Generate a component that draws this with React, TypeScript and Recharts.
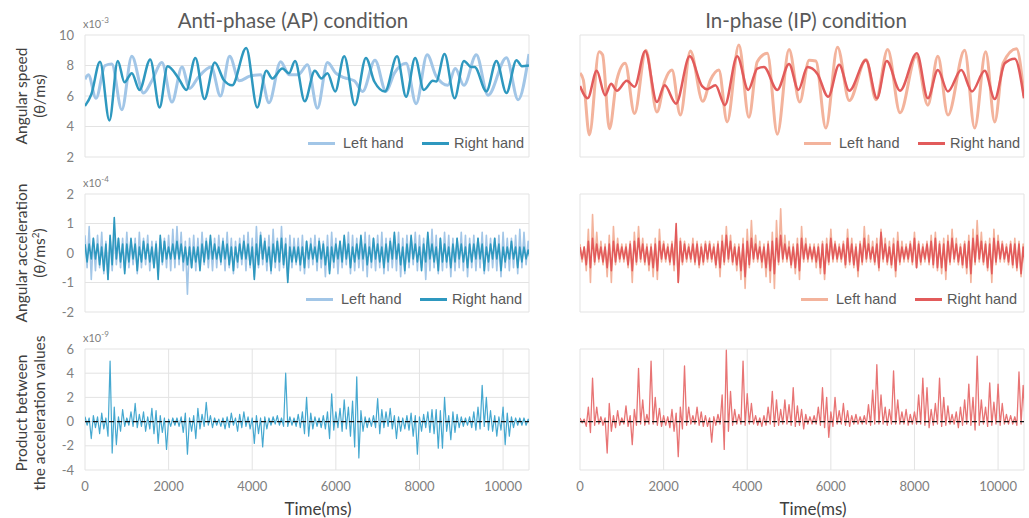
import React from 'react';
import { LineChart, Line, XAxis, YAxis, CartesianGrid, ReferenceLine } from 'recharts';

// ---------- axes ----------
const X_TICKS = [0, 2000, 4000, 6000, 8000, 10000];
const X_MAX = 10620;
const SPEED_TICKS = [2, 4, 6, 8, 10];
const ACC_TICKS = [-2, -1, 0, 1, 2];
const PROD_TICKS = [-4, -2, 0, 2, 4, 6];
const STEP = 100; // ms between envelope samples of the noisy signals

// ---------- angular speed (x10^-3), turning points ----------
const apRightSpeedT = [0, 150, 360, 584, 784, 944, 1120, 1304, 1560, 1784, 1976, 2240, 2424, 2640, 2856, 3104, 3320, 3520, 3856, 4120, 4336, 4480, 4720, 4880, 5024, 5256, 5496, 5656, 5800, 5984, 6200, 6456, 6720, 6920, 7176, 7464, 7680, 7896, 8104, 8320, 8400, 8600, 8840, 9064, 9240, 9320, 9600, 9840, 10080, 10320, 10450, 10620];
const apRightSpeedV = [5.35, 6.1, 8.25, 4.4, 8.3, 6.9, 7.5, 6.4, 8.4, 5.25, 7.95, 7.15, 6.4, 8.5, 5.8, 8.2, 7.05, 6.7, 9.15, 5.25, 7.65, 7.15, 7.8, 7.5, 8.3, 5.65, 7.65, 7.15, 7.5, 6.3, 8.6, 5.4, 8.5, 6.95, 6.3, 8.6, 5.95, 8.5, 6.4, 7.0, 6.95, 8.75, 5.85, 8.3, 7.9, 7.9, 6.3, 8.3, 6.2, 8.35, 7.95, 8.0];
const apLeftSpeedT = [0, 80, 264, 480, 640, 880, 1120, 1400, 1600, 1840, 2080, 2320, 2500, 2700, 3020, 3240, 3460, 3690, 3940, 4200, 4400, 4680, 4880, 5100, 5320, 5560, 5800, 6000, 6200, 6440, 6640, 6936, 7200, 7400, 7680, 7920, 8184, 8400, 8680, 8856, 9064, 9360, 9640, 10080, 10360, 10620];
const apLeftSpeedV = [7.1, 7.4, 5.85, 8.0, 8.1, 5.1, 8.6, 6.2, 7.0, 8.2, 5.6, 7.9, 6.5, 7.2, 7.9, 6.0, 8.6, 7.0, 7.3, 7.4, 5.55, 8.25, 7.4, 7.4, 8.05, 5.2, 8.2, 7.5, 7.2, 7.0, 6.3, 8.35, 6.3, 7.5, 8.15, 5.5, 8.7, 7.3, 6.7, 7.8, 6.7, 8.7, 6.05, 8.5, 5.75, 8.75];
const ipRightSpeedT = [0, 184, 400, 600, 744, 880, 1120, 1304, 1560, 1840, 2024, 2296, 2624, 2920, 3040, 3240, 3464, 3760, 4024, 4240, 4400, 4720, 5000, 5224, 5440, 5680, 5936, 6200, 6440, 6840, 7104, 7336, 7656, 8056, 8320, 8560, 8800, 9120, 9376, 9680, 9920, 10160, 10400, 10620];
const ipRightSpeedV = [6.65, 5.85, 7.65, 6.05, 6.8, 6.35, 7.0, 6.6, 8.95, 5.6, 6.7, 5.5, 8.6, 6.65, 6.45, 6.7, 5.4, 8.6, 6.4, 7.8, 7.9, 6.4, 8.1, 6.4, 7.9, 7.45, 5.95, 8.05, 6.35, 8.35, 5.85, 8.3, 6.35, 8.8, 5.85, 7.7, 6.3, 7.7, 6.3, 7.65, 5.8, 8.15, 8.45, 5.85];
const ipLeftSpeedT = [0, 80, 224, 456, 540, 704, 880, 1080, 1304, 1576, 1840, 2024, 2200, 2400, 2640, 2936, 3120, 3320, 3520, 3800, 4040, 4240, 4480, 4720, 5000, 5256, 5480, 5640, 5880, 6160, 6440, 6840, 7080, 7360, 7656, 8040, 8320, 8560, 8800, 9200, 9440, 9704, 9920, 10120, 10440, 10620];
const ipLeftSpeedV = [7.5, 7.05, 3.45, 8.9, 8.7, 3.85, 7.05, 8.15, 4.85, 9.0, 4.95, 6.95, 7.7, 4.75, 8.95, 5.65, 7.05, 7.7, 4.3, 9.35, 4.6, 8.25, 8.8, 3.5, 9.05, 5.6, 8.35, 8.3, 3.9, 9.2, 5.7, 8.4, 5.75, 9.05, 4.9, 8.6, 5.4, 8.6, 4.75, 9.0, 3.9, 8.9, 4.3, 8.15, 9.1, 6.0];

// ---------- angular acceleration (tenths of x10^-4), upper / lower envelope every 100 ms ----------
const apRightAccHi = [3,3,5,3,2,3,6,12,5,3, 3,5,3,2,4,3,2,3,6,4, 2,3,4,3,2,2,2,2,3,4, 6,3,2,4,3,2,2,3,4,3, 2,3,6,4,2,3,4,5,3,2, 2,2,2,4,3,2,4,3,2,2, 3,4,6,3,2,3,6,3,2,5, 3,2,3,4,7,3,2,3,6,3, 2,3,7,3,2,5,3,2,3,5, 3,2,3,3,5,3,2,3,5,3, 2,2,4,2,2,2,1];
const apRightAccLo = [-3,-2,-2,-4,-6,-9,-4,-2,-3,-7, -3,-2,-6,-3,-2,-3,-5,-9,-3,-2, -2,-2,-2,-3,-4,-5,-3,-6,-3,-2, -2,-2,-3,-2,-4,-6,-3,-2,-2,-4, -9,-4,-2,-3,-6,-3,-3,-4,-10,-3, -3,-4,-5,-2,-2,-3,-2,-4,-7,-3, -2,-3,-2,-5,-3,-2,-2,-4,-3,-2, -3,-5,-3,-2,-2,-4,-6,-3,-2,-3, -6,-3,-2,-3,-6,-3,-3,-5,-3,-2, -3,-5,-3,-2,-2,-6,-3,-2,-2,-6, -3,-2,-2,-5,-3,-2,-2];
const apLeftAccHi = [6,9,5,6,7,4,5,6,5,5, 7,4,5,7,5,6,4,4,5,5, 6,8,9,7,4,5,6,5,7,5, 4,5,6,5,7,5,4,5,6,7, 5,9,7,5,6,8,5,9,5,6, 5,5,6,4,5,6,5,4,6,7, 5,4,5,7,6,5,4,7,6,5, 6,7,5,5,6,7,5,6,5,7, 6,5,5,8,6,5,7,6,5,5, 7,6,5,6,5,7,6,5,5,6, 7,5,5,6,8,7,4];
const apLeftAccLo = [-5,-9,-6,-5,-7,-9,-6,-4,-5,-6, -5,-4,-7,-5,-4,-6,-5,-7,-4,-5, -6,-5,-4,-6,-14,-5,-6,-5,-4,-5, -6,-5,-4,-6,-5,-7,-5,-4,-6,-5, -8,-5,-4,-6,-7,-5,-6,-5,-9,-5, -4,-6,-7,-5,-4,-6,-5,-8,-6,-5, -7,-5,-4,-7,-6,-5,-6,-8,-5,-6, -5,-7,-6,-5,-6,-8,-7,-5,-4,-6, -5,-9,-6,-5,-7,-6,-5,-8,-6,-5, -6,-8,-5,-6,-5,-7,-6,-5,-6,-8, -5,-6,-5,-7,-5,-4,-3];
const ipLeftAccHi = [3,2,8,13,7,4,3,6,9,5, 3,3,4,7,9,5,3,3,5,8, 4,3,4,7,5,4,3,5,4,3, 4,4,3,4,6,9,6,3,3,5, 8,11,6,4,3,4,7,11,15,6, 4,3,5,9,5,3,3,3,4,5, 8,4,3,4,8,5,3,4,9,6, 4,5,8,5,4,5,7,4,3,4, 7,4,3,4,6,7,4,5,6,8, 5,3,4,6,8,11,7,4,5,8, 6,4,3,4,5,4,3];
const ipLeftAccLo = [-3,-6,-10,-4,-3,-4,-8,-10,-4,-3, -3,-5,-10,-4,-3,-4,-6,-8,-9,-3, -3,-4,-6,-10,-4,-3,-3,-4,-5,-4, -3,-3,-5,-8,-4,-3,-4,-6,-9,-12, -5,-3,-3,-5,-8,-10,-12,-4,-3,-3, -5,-7,-9,-3,-3,-3,-5,-7,-9,-4, -3,-3,-3,-5,-4,-5,-8,-4,-3,-3, -4,-6,-3,-4,-5,-8,-4,-3,-3,-4, -5,-4,-3,-4,-5,-6,-7,-9,-4,-3, -4,-5,-7,-10,-4,-3,-4,-6,-10,-4, -3,-3,-4,-5,-6,-8,-6];
const ipRightAccHi = [2,2,4,5,3,2,2,3,4,3, 2,2,3,4,5,3,2,2,3,4, 3,2,3,10,4,3,2,3,3,2, 3,3,2,3,4,6,4,2,2,3, 4,5,3,2,2,3,4,5,6,3, 2,2,3,5,3,2,2,2,3,3, 5,3,2,3,5,3,2,3,5,3, 2,3,7,3,2,3,4,2,2,3, 5,3,2,3,4,5,3,3,4,5, 3,2,3,4,5,6,4,3,3,5, 4,3,2,3,3,3,2];
const ipRightAccLo = [-2,-4,-5,-3,-2,-3,-5,-6,-3,-2, -2,-4,-6,-3,-2,-3,-4,-5,-6,-2, -2,-3,-4,-10,-3,-2,-2,-3,-4,-3, -2,-2,-4,-5,-3,-2,-3,-4,-6,-8, -4,-2,-2,-3,-5,-6,-7,-3,-2,-2, -4,-5,-6,-2,-2,-2,-3,-5,-7,-3, -2,-2,-2,-4,-3,-4,-6,-3,-2,-2, -3,-5,-2,-3,-4,-6,-3,-2,-2,-3, -5,-3,-2,-3,-4,-5,-5,-6,-3,-2, -3,-4,-5,-7,-3,-2,-3,-5,-7,-3, -2,-2,-3,-4,-5,-7,-5];

// ---------- product of accelerations (tenths of x10^-9), upper / lower envelope every 100 ms ----------
const apProdHi = [4,3,5,4,7,3,50,12,4,10, 3,8,15,6,8,4,11,9,5,3, 2,3,3,4,7,3,5,11,6,16, 5,3,2,3,4,7,3,6,8,4, 3,5,3,4,3,4,5,3,40,4, 3,6,8,20,7,4,3,5,8,23, 8,11,18,12,17,37,9,4,3,5, 19,10,8,11,5,4,3,5,7,5, 4,6,8,10,10,9,20,5,8,6, 4,3,4,8,12,30,20,9,5,4, 12,7,4,3,3,3,2];
const apProdLo = [-3,-14,-5,-10,-6,-12,-26,-19,-8,-4, -3,-4,-5,-4,-8,-6,-10,-18,-9,-23, -4,-3,-4,-9,-27,-8,-14,-6,-4,-3, -5,-3,-4,-6,-5,-3,-8,-5,-4,-6, -18,-10,-21,-6,-3,-2,-3,-4,-4,-3, -4,-5,-10,-12,-6,-4,-5,-6,-14,-7, -5,-8,-6,-12,-21,-30,-8,-5,-4,-5, -10,-5,-4,-6,-14,-8,-6,-7,-12,-27, -8,-5,-9,-10,-22,-22,-8,-15,-9,-5, -4,-3,-5,-7,-6,-4,-7,-8,-12,-7, -19,-12,-5,-3,-3,-3,-2];
const ipProdHi = [3,2,12,36,12,4,3,15,5,9, 3,13,5,10,44,18,6,50,20,11, 5,4,10,7,12,46,12,5,12,8, 5,3,4,6,22,59,25,10,6,50, 23,15,5,3,5,12,25,18,10,18, 14,28,13,10,6,4,5,12,28,20, 8,20,9,15,9,5,6,4,5,14, 26,47,22,12,10,42,18,8,10,6, 8,22,36,28,10,15,36,20,13,6, 8,12,18,31,20,54,18,12,32,16, 31,15,6,5,4,41,30];
const ipProdLo = [-1,-4,-9,-3,-2,-3,-26,-8,-5,-3, -2,-4,-19,-3,-2,-3,-2,-2,-3,-4, -3,-5,-8,-29,-6,-3,-2,-2,-3,-4, -4,-17,-3,-2,-23,-8,-3,-2,-2,-3, -2,-2,-3,-4,-3,-2,-4,-3,-2,-2, -3,-4,-3,-6,-2,-2,-2,-3,-5,-13, -4,-2,-2,-3,-4,-2,-2,-2,-2,-3, -2,-2,-2,-3,-2,-2,-2,-2,-3,-2, -2,-2,-3,-5,-3,-2,-4,-3,-2,-2, -5,-3,-2,-3,-7,-3,-2,-4,-3,-2, -3,-2,-2,-2,-3,-2,-2];

// ---------- colours ----------
const AP_LIGHT = '#a2c6e7';
const AP_DARK = '#2e98bf';
const IP_LIGHT = '#f3b39c';
const IP_DARK = '#e25b5b';
const AP_PROD = '#45a8d0';
const IP_PROD = '#e87474';

type Pt = { t: number; v: number };
const pairs = (ts: number[], vs: number[]): Pt[] => ts.map((t, i) => ({ t, v: vs[i] }));
const zig = (hi: number[], lo: number[]): Pt[] =>
  hi.flatMap((h, i) => [
    { t: i * STEP, v: h / 10 },
    { t: i * STEP + STEP / 2, v: lo[i] / 10 },
  ]);

type Series = { data: Pt[]; color: string; w: number; smooth: boolean; name: string };

const PLOT_W = 444;
const ML = 40;
const MR = 6;
const MT = 12;

function Panel(props: {
  left: number; top: number; plotH: number; domain: [number, number]; ticks: number[];
  showY: boolean; showX: boolean; series: Series[]; zero?: boolean;
}) {
  const { left, top, plotH, domain, ticks, showY, showX, series, zero } = props;
  const xh = showX ? 32 : 0;
  const mb = showX ? 0 : 10;
  const tickStyle = { fill: '#808080', fontSize: 13, fontFamily: 'Lato, sans-serif' };
  return (
    <div style={{ position: 'absolute', left: left - ML, top: top - MT }}>
      <LineChart width={ML + PLOT_W + MR} height={MT + plotH + mb + xh} margin={{ top: MT, right: MR, bottom: mb, left: 0 }}>
        <CartesianGrid stroke="#e3e3e3" strokeWidth={1} />
        <XAxis
          type="number" dataKey="t" domain={[0, X_MAX]} ticks={X_TICKS} allowDataOverflow
          height={xh} axisLine={false} tickLine={false} tickSize={0} tickMargin={12}
          tick={showX ? tickStyle : false} interval={0}
        />
        <YAxis
          type="number" domain={domain} ticks={ticks} allowDataOverflow width={ML}
          axisLine={false} tickLine={false} tickSize={0} tickMargin={11}
          tick={showY ? tickStyle : false} interval={0}
        />
        {series.map((s) => (
          <Line
            key={s.name} name={s.name} data={s.data} dataKey="v" stroke={s.color} strokeWidth={s.w}
            dot={false} activeDot={false} isAnimationActive={false} type={s.smooth ? 'monotone' : 'linear'}
            strokeLinejoin="round"
          />
        ))}
        {zero && <ReferenceLine y={0} stroke="#111" strokeDasharray="5 3" strokeWidth={1.4} />}
      </LineChart>
    </div>
  );
}

function LegendRow({ x0, y, light, dark }: { x0: number; y: number; light: string; dark: string }) {
  const txt: React.CSSProperties = {
    position: 'absolute', top: y - 9, fontFamily: '"Liberation Sans", Arial, sans-serif',
    fontSize: 14.5, color: '#595959', lineHeight: '18px', whiteSpace: 'nowrap',
  };
  const sample = (x: number, c: string): React.CSSProperties => ({
    position: 'absolute', left: x, top: y - 1.5, width: 27, height: 3, background: c,
  });
  return (
    <>
      <div style={sample(x0, light)} />
      <div style={{ ...txt, left: x0 + 35 }}>Left hand</div>
      <div style={sample(x0 + 114, dark)} />
      <div style={{ ...txt, left: x0 + 146 }}>Right hand</div>
    </>
  );
}

function YLabel({ cy, l1, l2 }: { cy: number; l1: React.ReactNode; l2: React.ReactNode }) {
  const s: React.CSSProperties = {
    position: 'absolute', width: 220, left: -110, textAlign: 'center', fontFamily: 'Lato, sans-serif',
    fontSize: 15.5, color: '#404040', lineHeight: '18px', transform: 'rotate(-90deg)', whiteSpace: 'nowrap',
  };
  return (
    <>
      <div style={{ ...s, top: cy - 9, marginLeft: 21 }}>{l1}</div>
      <div style={{ ...s, top: cy - 9, marginLeft: 39 }}>{l2}</div>
    </>
  );
}

function Scale({ x, y, exp }: { x: number; y: number; exp: string }) {
  return (
    <div style={{ position: 'absolute', left: x, top: y - 7, fontFamily: 'Lato, sans-serif', fontSize: 11, color: '#808080', lineHeight: '14px' }}>
      x10<sup style={{ fontSize: 8, verticalAlign: 'super', lineHeight: 0 }}>{exp}</sup>
    </div>
  );
}

export default function App() {
  const LX = 85;
  const RX = 580;
  const topSpeed = 35, hSpeed = 122;
  const topAcc = 194, hAcc = 118;
  const topProd = 349, hProd = 121;

  const apSpeed: Series[] = [
    { name: 'Left hand', data: pairs(apLeftSpeedT, apLeftSpeedV), color: AP_LIGHT, w: 3, smooth: true },
    { name: 'Right hand', data: pairs(apRightSpeedT, apRightSpeedV), color: AP_DARK, w: 2.5, smooth: true },
  ];
  const ipSpeed: Series[] = [
    { name: 'Left hand', data: pairs(ipLeftSpeedT, ipLeftSpeedV), color: IP_LIGHT, w: 3, smooth: true },
    { name: 'Right hand', data: pairs(ipRightSpeedT, ipRightSpeedV), color: IP_DARK, w: 2.5, smooth: true },
  ];
  const apAcc: Series[] = [
    { name: 'Left hand', data: zig(apLeftAccHi, apLeftAccLo), color: AP_LIGHT, w: 1.6, smooth: false },
    { name: 'Right hand', data: zig(apRightAccHi, apRightAccLo), color: AP_DARK, w: 1.6, smooth: false },
  ];
  const ipAcc: Series[] = [
    { name: 'Left hand', data: zig(ipLeftAccHi, ipLeftAccLo), color: IP_LIGHT, w: 1.6, smooth: false },
    { name: 'Right hand', data: zig(ipRightAccHi, ipRightAccLo), color: IP_DARK, w: 1.6, smooth: false },
  ];
  const apProd: Series[] = [{ name: 'Product', data: zig(apProdHi, apProdLo), color: AP_PROD, w: 1.2, smooth: false }];
  const ipProd: Series[] = [{ name: 'Product', data: zig(ipProdHi, ipProdLo), color: IP_PROD, w: 1.3, smooth: false }];

  const title: React.CSSProperties = {
    position: 'absolute', top: 8, width: 400, textAlign: 'center', fontFamily: 'Lato, sans-serif',
    fontSize: 20.5, color: '#595959', lineHeight: '24px',
  };
  const xTitle: React.CSSProperties = {
    position: 'absolute', top: 498, width: 200, textAlign: 'center', fontFamily: 'Lato, sans-serif',
    fontSize: 17, color: '#404040', lineHeight: '22px',
  };

  return (
    <div style={{ position: 'absolute', left: 0, top: 0, width: 1029, height: 518, background: '#fff', overflow: 'hidden' }}>
      <div style={{ ...title, left: 293 - 200 }}>Anti-phase (AP) condition</div>
      <div style={{ ...title, left: 806 - 200 }}>In-phase (IP) condition</div>

      <YLabel cy={96} l1="Angular speed" l2="(θ/ms)" />
      <YLabel cy={253} l1="Angular acceleration" l2={<span>(θ/ms<sup style={{ fontSize: 10, lineHeight: 0 }}>2</sup>)</span>} />
      <YLabel cy={413} l1="Product between" l2="the acceleration values" />

      <Panel left={LX} top={topSpeed} plotH={hSpeed} domain={[2, 10]} ticks={SPEED_TICKS} showY showX={false} series={apSpeed} />
      <Panel left={RX} top={topSpeed} plotH={hSpeed} domain={[2, 10]} ticks={SPEED_TICKS} showY={false} showX={false} series={ipSpeed} />
      <Panel left={LX} top={topAcc} plotH={hAcc} domain={[-2, 2]} ticks={ACC_TICKS} showY showX={false} series={apAcc} />
      <Panel left={RX} top={topAcc} plotH={hAcc} domain={[-2, 2]} ticks={ACC_TICKS} showY={false} showX={false} series={ipAcc} />
      <Panel left={LX} top={topProd} plotH={hProd} domain={[-4, 6]} ticks={PROD_TICKS} showY showX series={apProd} zero />
      <Panel left={RX} top={topProd} plotH={hProd} domain={[-4, 6]} ticks={PROD_TICKS} showY={false} showX series={ipProd} zero />

      <Scale x={83} y={24} exp="-3" />
      <Scale x={83} y={183} exp="-4" />
      <Scale x={83} y={338} exp="-9" />

      <LegendRow x0={308} y={143} light={AP_LIGHT} dark={AP_DARK} />
      <LegendRow x0={804} y={143} light={IP_LIGHT} dark={IP_DARK} />
      <LegendRow x0={306} y={299} light={AP_LIGHT} dark={AP_DARK} />
      <LegendRow x0={801} y={299} light={IP_LIGHT} dark={IP_DARK} />

      <div style={{ ...xTitle, left: 318 - 100 }}>Time(ms)</div>
      <div style={{ ...xTitle, left: 813 - 100 }}>Time(ms)</div>
    </div>
  );
}
